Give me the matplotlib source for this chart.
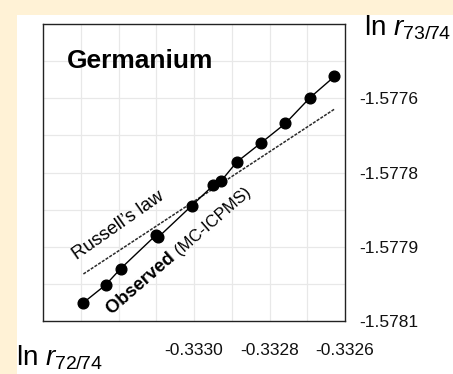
import numpy as np
import matplotlib
matplotlib.use("Agg")
import matplotlib.pyplot as plt
from matplotlib.patches import Rectangle

plt.rcParams['font.family'] = ['Liberation Sans', 'DejaVu Sans']
plt.rcParams['mathtext.fontset'] = 'custom'
plt.rcParams['mathtext.rm'] = 'Liberation Sans'
plt.rcParams['mathtext.it'] = 'Liberation Sans:italic'
plt.rcParams['mathtext.bf'] = 'Liberation Sans:bold'

# observed MC-ICPMS points (ln r72/74, ln r73/74)
ln_r72 = [-0.333293, -0.333234, -0.333194, -0.333100, -0.333095, -0.333006,
          -0.332949, -0.332928, -0.332887, -0.332822, -0.332758, -0.332693, -0.332628]
ln_r73 = [-1.578013, -1.577977, -1.577944, -1.577876, -1.577881, -1.577817,
          -1.577776, -1.577767, -1.577729, -1.577690, -1.577651, -1.577599, -1.577556]

# Russell's law line end points
russell_x = [-0.333293, -0.332628]
russell_y = [-1.577955, -1.577622]

xticks = [-0.3330, -0.3328, -0.3326]
xtick_labels = ['-0.3330', '-0.3328', '-0.3326']
xgrid = [-0.3333, -0.3332, -0.3331, -0.3330, -0.3329, -0.3328, -0.3327]
yticks = [-1.57760, -1.57775, -1.57790, -1.57805]
ytick_labels = ['-1.5776', '-1.5778', '-1.5779', '-1.5781']
ygrid = [-1.577525, -1.57760, -1.577675, -1.57775, -1.577825, -1.57790, -1.577975]

cream = '#FFF2D6'
fig = plt.figure(figsize=(4.53, 3.74), dpi=100, facecolor=cream)
fig.patches.append(Rectangle((17 / 453, 0), 1, 1 - 15 / 374, transform=fig.transFigure,
                             facecolor='white', edgecolor='none', zorder=-10))

ax = fig.add_axes([43 / 453, 53 / 374, 302 / 453, 297 / 374])
ax.set_facecolor('white')
ax.set_xlim(-0.3334, -0.3326)
ax.set_ylim(-1.57805, -1.57745)

for gx in xgrid:
    ax.axvline(gx, color='#E8E8E8', lw=0.9, zorder=0)
for gy in ygrid:
    ax.axhline(gy, color='#E8E8E8', lw=0.9, zorder=0)

ax.plot(russell_x, russell_y, color='#2a2a2a', lw=1.1, linestyle=(0, (2.0, 0.9)), zorder=2)
ax.plot(ln_r72, ln_r73, color='black', lw=1.0, marker='o', markersize=7.7, zorder=3)

ax.set_xticks(xticks)
ax.set_xticklabels(xtick_labels)
ax.set_yticks(yticks)
ax.set_yticklabels(ytick_labels)
ax.yaxis.tick_right()
ax.tick_params(axis='both', length=0, labelsize=12.5, colors='#111111')
ax.tick_params(axis='x', pad=16)
ax.tick_params(axis='y', pad=10)
for s in ax.spines.values():
    s.set_color('#222222')
    s.set_linewidth(1.0)

ax.text(0.0795, 0.851, 'Germanium', transform=ax.transAxes, fontsize=19,
        fontweight='bold', ha='left', va='baseline')
ax.text(0.112, 0.205, u'Russell\u2019s law', transform=ax.transAxes, fontsize=13.5,
        rotation=35, rotation_mode='anchor', ha='left', va='baseline')

# "Observed" bold then "(MC-ICPMS)" along the same baseline
ang = 41
x0, y0 = ax.transAxes.transform((0.229, 0.020))
t1 = ax.text(x0, y0, 'Observed ', transform=None, fontsize=13.2, fontweight='bold',
             ha='left', va='baseline')
fig.canvas.draw()
w = t1.get_window_extent().width
t1.set_rotation(ang)
t1.set_rotation_mode('anchor')
x1 = x0 + w * np.cos(np.radians(ang))
y1 = y0 + w * np.sin(np.radians(ang))
ax.text(x1, y1, '(MC-ICPMS)', transform=None, fontsize=12, rotation=ang,
        rotation_mode='anchor', ha='left', va='baseline')

fig.text(364 / 453, 1 - 35 / 374, r'ln $r_{73/74}$', fontsize=20, ha='left', va='baseline')
fig.text(16 / 453, 1 - 365 / 374, r'ln $r_{72/74}$', fontsize=20, ha='left', va='baseline')

fig.savefig('out.png', dpi=100, facecolor=cream)
